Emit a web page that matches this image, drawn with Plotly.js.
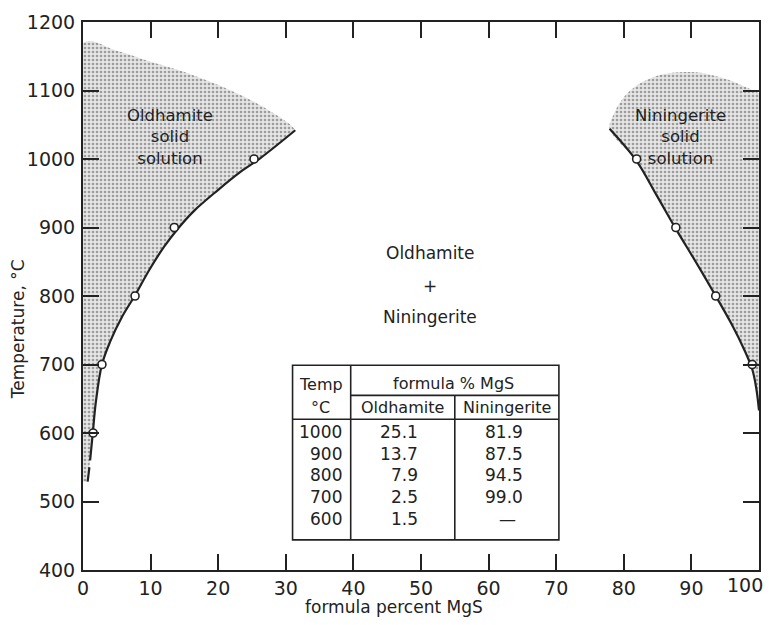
<!DOCTYPE html>
<html>
<head>
<meta charset="utf-8">
<script src="https://cdn.plot.ly/plotly-3.0.1.min.js"></script>
<style>html,body{margin:0;padding:0;background:#fff;}#chart{width:769px;height:625px;}</style>
</head>
<body>
<div id="chart"></div>
<script>
// ---- data ----
// Oldhamite solvus (formula % MgS vs temperature, °C)
const oldCurvePct  = [1.05, 1.45, 1.9, 2.8, 4.0, 5.8, 7.7, 9.8, 12.0, 14.1, 16.5, 20.0, 23.0, 26.2, 31.4];
const oldCurveTemp = [560, 600, 645, 700, 733, 770, 801, 838, 872, 899, 925, 955, 979, 1001, 1042];
const oldDashPct   = [0.69, 0.95];
const oldDashTemp  = [529, 550];
// upper limit of the Oldhamite solid-solution field
const oldTopPct  = [0, 5, 10, 15, 20, 25, 28, 30.7, 31.4];
const oldTopTemp = [1169, 1158, 1142, 1127, 1108, 1085, 1068, 1050, 1042];
// Niningerite solvus
const ninCurvePct  = [77.9, 81.9, 84.8, 87.7, 90.7, 93.6, 96.0, 97.8, 99.0, 99.6, 100];
const ninCurveTemp = [1044, 997, 948, 898, 849, 800, 758, 722, 693, 665, 633];
// upper limit of the Niningerite solid-solution field
const ninTopPct  = [77.9, 78.5, 80, 82, 84, 86, 89, 92, 94, 96, 98, 100];
const ninTopTemp = [1044, 1065, 1090, 1108, 1118, 1124, 1127, 1125, 1120, 1114, 1105, 1096];
// experimental points (open circles)
const oldPtsPct  = [25.3, 13.5, 7.7, 2.8, 1.5];
const oldPtsTemp = [1000, 900, 800, 700, 600];
const ninPtsPct  = [81.9, 87.7, 93.6, 99.0];
const ninPtsTemp = [1000, 900, 800, 700];
// inset table
const tableTemps = ['1000', '900', '800', '700', '600'];
const tableOld   = ['25.1', '13.7', '7.9', '2.5', '1.5'];
const tableNin   = ['81.9', '87.5', '94.5', '99.0', '—'];
const xTicks = [0, 10, 20, 30, 40, 50, 60, 70, 80, 90, 100];
const xTickText = ['0', '10', '20', '30', '40', '50', '60', '70', '80', '90', ''];
const xLastLabel = '100';
const yTicks = [400, 500, 600, 700, 800, 900, 1000, 1100, 1200];

// ---- styling ----
const FONT = 'DejaVu Sans, sans-serif';
const INK = '#222';
const shade = {shape: '.', bgcolor: '#e6e6e6', fgcolor: '#9c9c9c', size: 4, solidity: 0.35};

const rev = a => a.slice().reverse();

// shaded fields
const oldFieldX = [0].concat(oldTopPct, rev(oldCurvePct), rev(oldDashPct));
const oldFieldY = [oldDashTemp[0]].concat(oldTopTemp, rev(oldCurveTemp), rev(oldDashTemp));
const ninFieldX = ninCurvePct.concat([100], rev(ninTopPct));
const ninFieldY = ninCurveTemp.concat([ninTopTemp[ninTopTemp.length - 1]], rev(ninTopTemp));

const traces = [
  {x: oldFieldX, y: oldFieldY, mode: 'lines', fill: 'toself', line: {width: 0, shape: 'spline'},
   fillcolor: '#d9d9d9', fillpattern: shade, hoverinfo: 'skip'},
  {x: ninFieldX, y: ninFieldY, mode: 'lines', fill: 'toself', line: {width: 0, shape: 'spline'},
   fillcolor: '#d9d9d9', fillpattern: shade, hoverinfo: 'skip'},
  {x: oldCurvePct, y: oldCurveTemp, mode: 'lines', line: {color: INK, width: 2.2, shape: 'spline'}},
  {x: oldDashPct, y: oldDashTemp, mode: 'lines', line: {color: INK, width: 2.2}},
  {x: ninCurvePct, y: ninCurveTemp, mode: 'lines', line: {color: INK, width: 2.2, shape: 'spline'}},
  {x: oldPtsPct, y: oldPtsTemp, mode: 'markers',
   marker: {symbol: 'circle', size: 8, color: '#fff', line: {color: INK, width: 1.6}}},
  {x: ninPtsPct, y: ninPtsTemp, mode: 'markers',
   marker: {symbol: 'circle', size: 8, color: '#fff', line: {color: INK, width: 1.6}}}
];

// table geometry (data coordinates)
const tL = 31.0, tC1 = 39.6, tC2 = 55.0, tR = 70.4;
const tTop = 699, tMid = 655, tHead = 620, tBot = 444;
const lineStyle = {color: INK, width: 1.6};
const shapes = [
  {type: 'rect', xref: 'x', yref: 'y', x0: tL, x1: tR, y0: tBot, y1: tTop, line: lineStyle, fillcolor: '#fff', layer: 'above'},
  {type: 'line', xref: 'x', yref: 'y', x0: tC1, x1: tC1, y0: tBot, y1: tTop, line: lineStyle},
  {type: 'line', xref: 'x', yref: 'y', x0: tC2, x1: tC2, y0: tBot, y1: tMid, line: lineStyle},
  {type: 'line', xref: 'x', yref: 'y', x0: tC1, x1: tR, y0: tMid, y1: tMid, line: lineStyle},
  {type: 'line', xref: 'x', yref: 'y', x0: tL, x1: tR, y0: tHead, y1: tHead, line: lineStyle}
];

const ann = (x, y, text, size, extra) => Object.assign({
  x: x, y: y, xref: 'x', yref: 'y', text: text, showarrow: false,
  xanchor: 'center', yanchor: 'middle',
  font: {family: FONT, size: size, color: INK}
}, extra || {});

const annotations = [
  ann(12.9, 1032, 'Oldhamite<br>solid<br>solution', 16.5, {align: 'center'}),
  ann(88.4, 1032, 'Niningerite<br>solid<br>solution', 16.5, {align: 'center'}),
  ann(51.4, 863, 'Oldhamite', 17),
  ann(51.4, 814, '+', 17),
  ann(51.4, 769, 'Niningerite', 17),
  ann(35.2, 671, 'Temp', 16),
  ann(35.2, 637, '°C', 16),
  ann(54.8, 673, 'formula % MgS', 16),
  ann(47.3, 637, 'Oldhamite', 16),
  ann(62.7, 637, 'Niningerite', 16),
  {x: 1.0095, y: -0.0275, xref: 'paper', yref: 'paper', xanchor: 'right', yanchor: 'middle',
   text: xLastLabel, showarrow: false, font: {family: FONT, size: 19, color: INK}},
  {x: 0.46, y: -0.068, xref: 'paper', yref: 'paper', xanchor: 'center', yanchor: 'middle',
   text: 'formula percent MgS', showarrow: false,
   font: {family: FONT, size: 17, color: INK}},
  {x: -0.097, y: 0.44, xref: 'paper', yref: 'paper', xanchor: 'center', yanchor: 'middle',
   text: 'Temperature, °C', showarrow: false,
   textangle: -90, font: {family: FONT, size: 17, color: INK}}
];
const rowStart = 601, rowStep = -31.5;
tableTemps.forEach((t, i) => {
  const y = rowStart + i * rowStep;
  annotations.push(ann(38.6, y, t, 17, {xanchor: 'right'}));
  annotations.push(ann(49.8, y, tableOld[i], 17, {xanchor: 'right'}));
  if (tableNin[i] === '—') annotations.push(ann(62.8, y, tableNin[i], 17));
  else annotations.push(ann(65.4, y, tableNin[i], 17, {xanchor: 'right'}));
});

const axisCommon = {
  showgrid: false, zeroline: false, showline: true, linecolor: INK, linewidth: 2,
  mirror: 'ticks', ticks: 'inside', ticklen: 16, tickwidth: 2, tickcolor: INK,
  tickfont: {family: FONT, size: 19, color: INK}
};

const layout = {
  width: 769, height: 625,
  margin: {l: 83, r: 10, t: 22, b: 55},
  paper_bgcolor: '#fff', plot_bgcolor: '#fff',
  showlegend: false,
  xaxis: Object.assign({}, axisCommon, {range: [0, 100], tickvals: xTicks, ticktext: xTickText}),
  yaxis: Object.assign({}, axisCommon, {range: [400, 1200], tickvals: yTicks, ticktext: yTicks.map(String), ticklabelstandoff: 2}),
  shapes: shapes,
  annotations: annotations
};

Plotly.newPlot('chart', traces, layout, {staticPlot: true, displayModeBar: false});
</script>
</body>
</html>
